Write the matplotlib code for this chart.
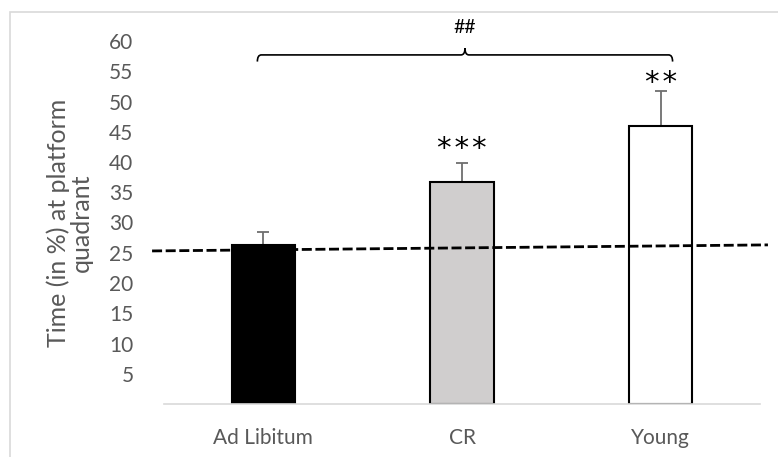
import matplotlib
matplotlib.use("Agg")
import matplotlib.pyplot as plt
from matplotlib.patches import Rectangle, PathPatch
from matplotlib.path import Path

# datos
grupos = ["Ad Libitum", "CR", "Young"]
medias = [26.2, 36.7, 46.0]
errores = [2.3, 3.2, 5.7]
colores = ["#000000", "#d0cece", "#ffffff"]
marcas = ["", "***", "**"]
marcas_y = [0, 42.2, 53.0]
ticks_y = [5, 10, 15, 20, 25, 30, 35, 40, 45, 50, 55, 60]

# linea de azar (dibujada a mano en el original, un poco inclinada)
azar_x = [-0.56, 2.54]
azar_y = [25.3, 26.3]

# llave de comparacion Ad Libitum vs Young
llave_x = [-0.03, 2.06]
llave_y = 57.7
llave_txt = "##"
llave_txt_y = 62.3

gris = "#595959"
plt.rcParams["font.family"] = ["Lato", "DejaVu Sans"]

fig = plt.figure(figsize=(7.78, 4.57), dpi=100)
ax = fig.add_axes([164 / 778, 1 - 404 / 457, 596 / 778, 363 / 457])

x = list(range(len(grupos)))
ax.bar(x, medias, width=0.32, color=colores, edgecolor="black", linewidth=1.5, zorder=2)
ax.errorbar(x, medias, yerr=[[0] * len(errores), errores], fmt="none", ecolor="#6e6e6e",
            elinewidth=1.3, capsize=4.5, capthick=1.3, zorder=1)

for xi, m, my in zip(x, marcas, marcas_y):
    if m:
        ax.text(xi, my, "\u200a".join(m), ha="center", va="center", fontsize=21,
                color="black", family="DejaVu Sans", clip_on=False)

ax.plot(azar_x, azar_y, color="black", linewidth=2, dashes=(3.6, 1.3), zorder=3, clip_on=False)

# llave horizontal
x0, x1 = llave_x
xm = (x0 + x1) / 2
h = 1.1
codigos = [Path.MOVETO, Path.CURVE3, Path.CURVE3, Path.LINETO, Path.CURVE3, Path.CURVE3,
           Path.MOVETO, Path.CURVE3, Path.CURVE3, Path.LINETO, Path.CURVE3, Path.CURVE3]
d = 0.02
verts = [(x0, llave_y - h), (x0, llave_y), (x0 + d, llave_y), (xm - d, llave_y),
         (xm, llave_y), (xm, llave_y + h),
         (x1, llave_y - h), (x1, llave_y), (x1 - d, llave_y), (xm + d, llave_y),
         (xm, llave_y), (xm, llave_y + h)]
ax.add_patch(PathPatch(Path(verts, codigos), fill=False, edgecolor="black", linewidth=1.2,
                       clip_on=False))
ax.text(xm, llave_txt_y, llave_txt, ha="center", va="center", fontsize=14, color="black",
        clip_on=False)

ax.set_xlim(-0.5, 2.5)
ax.set_ylim(0, 60)
ax.set_yticks(ticks_y)
ax.set_xticks(x)
ax.set_xticklabels(grupos)
ax.tick_params(axis="both", length=0, labelsize=15, labelcolor=gris)
ax.tick_params(axis="y", pad=22)
ax.tick_params(axis="x", pad=17)
ax.set_ylabel("Time (in %) at platform\nquadrant", fontsize=18, color=gris, labelpad=12,
              linespacing=0.95)
for s in ["top", "right", "left"]:
    ax.spines[s].set_visible(False)
ax.spines["bottom"].set_color("#d9d9d9")
ax.spines["bottom"].set_linewidth(1.2)

# marco del grafico
fig.patches.append(Rectangle((10 / 778, -0.05), 1.0, 1 - 12 / 457 + 0.05,
                             transform=fig.transFigure, fill=False,
                             edgecolor="#d9d9d9", linewidth=1.2))

fig.savefig("out.png", dpi=100)
